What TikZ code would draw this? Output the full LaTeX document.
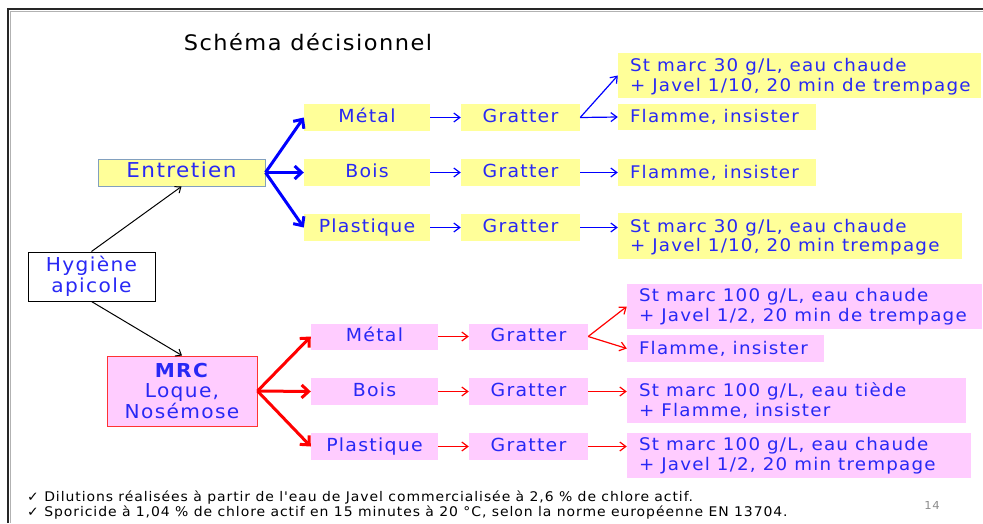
\documentclass[tikz,border=0pt]{standalone}
\usepackage{fontspec}
\usetikzlibrary{arrows.meta,calc}
\newfontfamily\cfont[FakeStretch=1.05,LetterSpace=7]{DejaVu Sans}
\definecolor{tblue}{RGB}{40,40,245}
\definecolor{yel}{RGB}{255,255,153}
\definecolor{pnk}{RGB}{255,204,255}
\definecolor{entb}{RGB}{130,160,190}
\definecolor{arb}{RGB}{0,0,255}
\definecolor{arr}{RGB}{255,0,0}
\begin{document}
\begin{tikzpicture}[x=1pt,y=-1pt,
  box/.style={anchor=center,inner sep=0pt,text=tblue,font=\cfont\fontsize{18}{21}\selectfont},
  cbox/.style={text height=13pt,text depth=3.5pt},
  ybox/.style={box,fill=yel},
  pbox/.style={box,fill=pnk},
  rtext/.style={anchor=west,inner sep=0pt,text=tblue,align=left,font=\cfont\fontsize{17.4}{19.5}\selectfont},
  thinb/.style={draw=arb,line width=1.2pt,-{Straight Barb[length=6pt,width=9pt]}},
  thinr/.style={draw=arr,line width=1.2pt,-{Straight Barb[length=6pt,width=9pt]}},
  thickb/.style={draw=arb,line width=3pt,-{Straight Barb[length=7pt,width=13pt]}},
  thickr/.style={draw=arr,line width=3pt,-{Straight Barb[length=7pt,width=13pt]}},
  blk/.style={draw=black,line width=1pt,-{Straight Barb[length=5pt,width=8pt]}},
  foot/.style={anchor=west,inner sep=0pt,text=black,font=\cfont\fontsize{13.3}{15}\selectfont}
]
\useasboundingbox (0,0) rectangle (983,523);
% frame
\draw[gray!60,line width=1pt] (10,523) -- (10,11) -- (983,11);
\draw[black!85,line width=1.6pt] (8,523) -- (8,9) -- (983,9);

% title
\node[anchor=center,inner sep=0pt,text=black,font=\cfont\fontsize{21.4}{24}\selectfont] (title) at (308,42) {Schéma décisionnel};

% left nodes
\node[box,draw=black,line width=1pt,fill=white,minimum width=127pt,minimum height=49pt,align=center,font=\cfont\fontsize{19.2}{21}\selectfont] (hyg) at (91.5,276.5) {Hygiène\\apicole};
\node[ybox,cbox,draw=entb,line width=1pt,minimum width=167pt,minimum height=27pt,font=\cfont\fontsize{20.5}{22}\selectfont] (ent) at (181.5,172.5) {Entretien};
\node[pbox,draw=arr!80,line width=1pt,minimum width=150pt,minimum height=70pt,align=center,font=\cfont\fontsize{19.2}{20.5}\selectfont] (mrc) at (182,391) {\textbf{MRC}\\Loque,\\Nosémose};

% top row
\node[ybox,cbox,minimum width=126pt,minimum height=27pt] (tm) at (367,117.5) {Métal};
\node[ybox,cbox,minimum width=126pt,minimum height=27pt] (tb) at (367,172.5) {Bois};
\node[ybox,cbox,minimum width=126pt,minimum height=27pt] (tp) at (367,227.5) {Plastique};
\node[ybox,cbox,minimum width=119pt,minimum height=27pt] (tg1) at (520.5,117.5) {Gratter};
\node[ybox,cbox,minimum width=119pt,minimum height=27pt] (tg2) at (520.5,172.5) {Gratter};
\node[ybox,cbox,minimum width=119pt,minimum height=27pt] (tg3) at (520.5,227.5) {Gratter};
\node[ybox,minimum width=363pt,minimum height=45pt] (tr1a) at (799.5,75.5) {};
\node[rtext] (tr1at) at ([xshift=12pt,yshift=-1pt]tr1a.west) {St marc 30 g/L, eau chaude\\+ Javel 1/10, 20 min de trempage};
\node[ybox,minimum width=198pt,minimum height=26pt] (tr1b) at (717,117) {};
\node[rtext] (tr1bt) at ([xshift=12pt]tr1b.west) {Flamme, insister};
\node[ybox,minimum width=198pt,minimum height=27pt] (tr2) at (717,172.5) {};
\node[rtext] (tr2t) at ([xshift=12pt]tr2.west) {Flamme, insister};
\node[ybox,minimum width=344pt,minimum height=46pt] (tr3) at (790,236) {};
\node[rtext] (tr3t) at ([xshift=12pt,yshift=-1pt]tr3.west) {St marc 30 g/L, eau chaude\\+ Javel 1/10, 20 min trempage};

% bottom row
\node[pbox,cbox,minimum width=127pt,minimum height=26pt] (bm) at (374.5,336.5) {Métal};
\node[pbox,cbox,minimum width=127pt,minimum height=27pt] (bb) at (374.5,391.5) {Bois};
\node[pbox,cbox,minimum width=127pt,minimum height=27pt] (bp) at (374.5,446.5) {Plastique};
\node[pbox,cbox,minimum width=119pt,minimum height=26pt] (bg1) at (528.5,336.5) {Gratter};
\node[pbox,cbox,minimum width=119pt,minimum height=27pt] (bg2) at (528.5,391.5) {Gratter};
\node[pbox,cbox,minimum width=119pt,minimum height=27pt] (bg3) at (528.5,446.5) {Gratter};
\node[pbox,minimum width=355pt,minimum height=45pt] (br1a) at (804.5,306.5) {};
\node[rtext] (br1at) at ([xshift=12pt]br1a.west) {St marc 100 g/L, eau chaude\\+ Javel 1/2, 20 min de trempage};
\node[pbox,minimum width=197pt,minimum height=27pt] (br1b) at (725.5,348.5) {};
\node[rtext] (br1bt) at ([xshift=12pt]br1b.west) {Flamme, insister};
\node[pbox,minimum width=339pt,minimum height=45pt] (br2) at (796.5,400.5) {};
\node[rtext] (br2t) at ([xshift=12pt]br2.west) {St marc 100 g/L, eau tiède\\+ Flamme, insister};
\node[pbox,minimum width=344pt,minimum height=45pt] (br3) at (799,455.5) {};
\node[rtext] (br3t) at ([xshift=12pt]br3.west) {St marc 100 g/L, eau chaude\\+ Javel 1/2, 20 min trempage};

% connectors
\draw[blk] (hyg.north) -- (ent.south);
\draw[blk] (hyg.south) -- (mrc.north);
\draw[thickb] (ent.east) -- (tm.west);
\draw[thickb] (ent.east) -- (tb.west);
\draw[thickb] (ent.east) -- (tp.west);
\draw[thickr] (mrc.east) -- (bm.west);
\draw[thickr] (mrc.east) -- (bb.west);
\draw[thickr] (mrc.east) -- (bp.west);
\draw[thinb] (tm.east) -- (tg1.west);
\draw[thinb] (tb.east) -- (tg2.west);
\draw[thinb] (tp.east) -- (tg3.west);
\draw[thinr] (bm.east) -- (bg1.west);
\draw[thinr] (bb.east) -- (bg2.west);
\draw[thinr] (bp.east) -- (bg3.west);
\draw[thinb] (tg1.east) -- (tr1a.west);
\draw[thinb] (tg1.east) -- (tr1b.west);
\draw[thinb] (tg2.east) -- (tr2.west);
\draw[thinb] (tg3.east) -- (tg3.east -| tr3.west);
\draw[thinr] (bg1.east) -- (br1a.west);
\draw[thinr] (bg1.east) -- (br1b.west);
\draw[thinr] (bg2.east) -- (bg2.east -| br2.west);
\draw[thinr] (bg3.east) -- (bg3.east -| br3.west);

% footnotes
\node[foot] (f1) at (27,498) {✓ Dilutions réalisées à partir de l'eau de Javel commercialisée à 2,6 \% de chlore actif.};
\node[foot] (f2) at (27,513) {✓ Sporicide à 1,04 \% de chlore actif en 15 minutes à 20 °C, selon la norme européenne EN 13704.};
\node[anchor=center,inner sep=0pt,text=black!45,font=\cfont\fontsize{11}{13}\selectfont] (pg) at (932,505) {14};
\end{tikzpicture}
\end{document}
